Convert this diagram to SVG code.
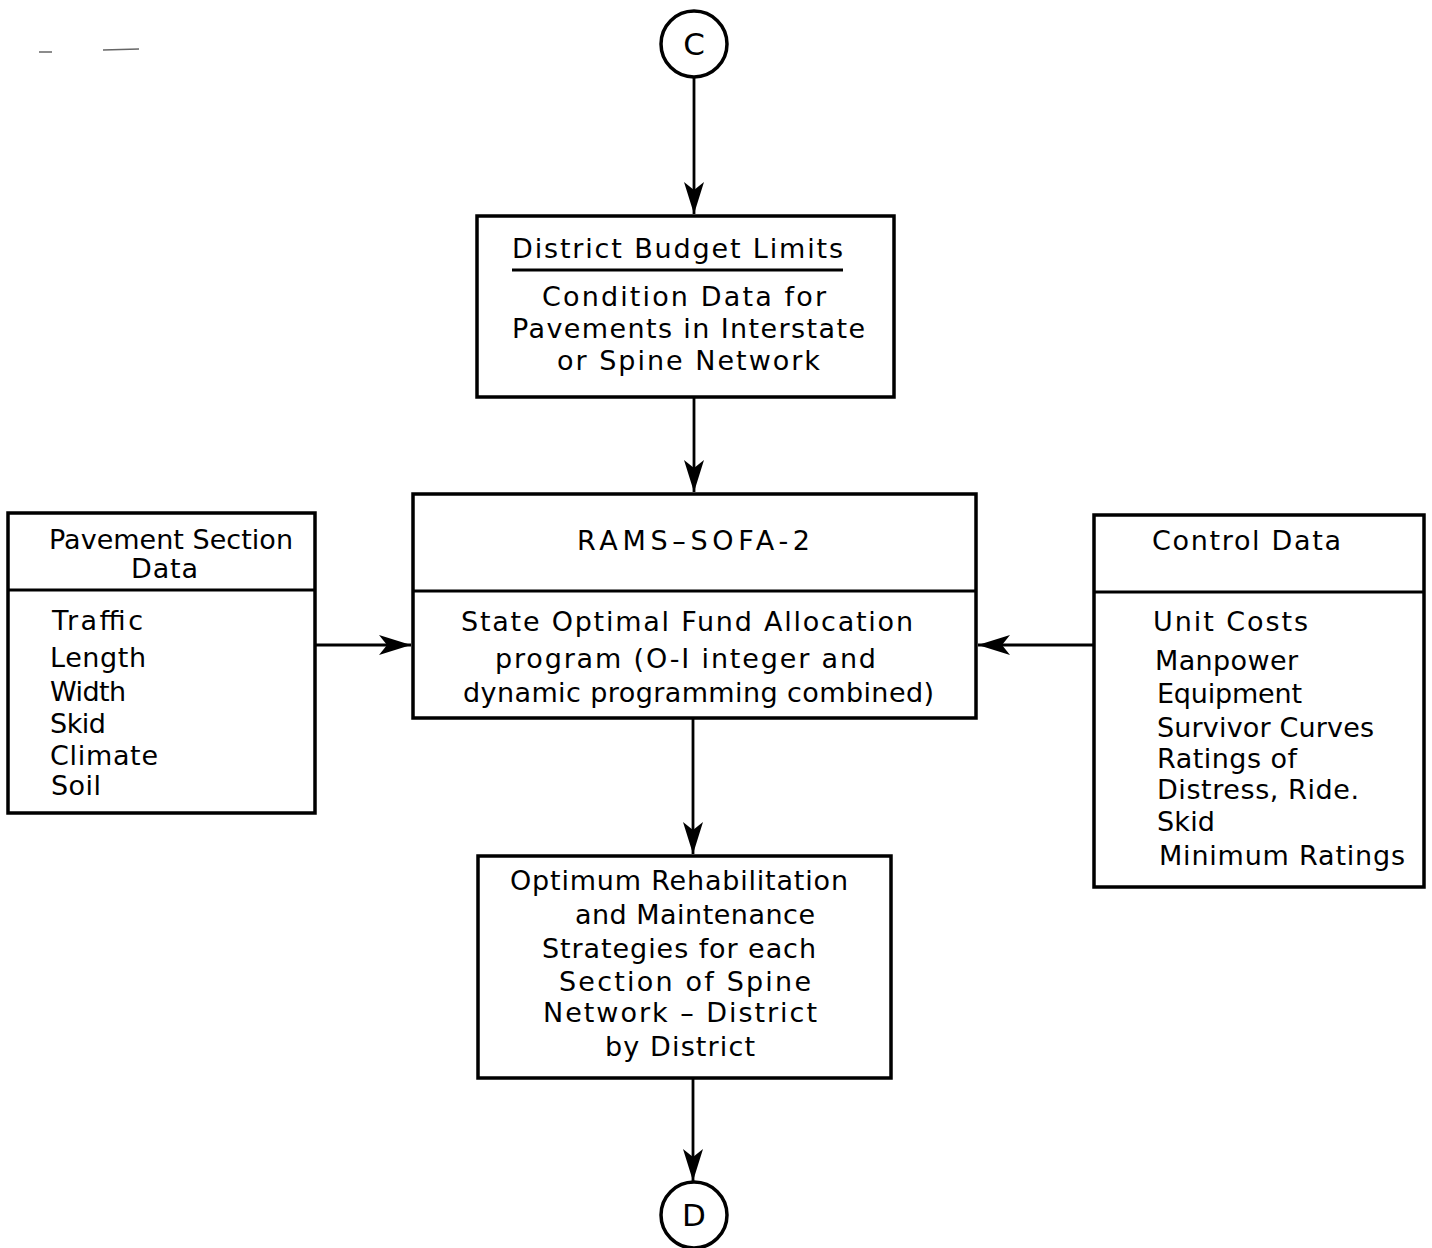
<svg xmlns="http://www.w3.org/2000/svg" width="1432" height="1248" viewBox="0 0 1432 1248">
<defs>
<style>
.box{fill:none;stroke:#000;stroke-width:3.5}
.div{stroke:#000;stroke-width:3}
.con{fill:none;stroke:#000;stroke-width:2.8}
.t{font-family:"DejaVu Sans","Liberation Sans",sans-serif;font-size:27px;fill:#000}
.big{font-size:31px}
</style>
<marker id="ah" markerUnits="userSpaceOnUse" markerWidth="34" markerHeight="22" viewBox="-34 -11 34 22" refX="0" refY="0" orient="auto">
<path d="M0,0 L-32,-10 L-24,0 L-32,10 Z" fill="#000"/>
</marker>
</defs>
<rect width="1432" height="1248" fill="#fff"/>
<g id="marks" stroke="#666" stroke-width="1.5">
<line x1="39" y1="52" x2="52" y2="52"/>
<line x1="103" y1="50" x2="139" y2="49"/>
</g>
<g id="connectors">
<line class="con" x1="694" y1="77" x2="694" y2="214" marker-end="url(#ah)"/>
<line class="con" x1="694" y1="397" x2="694" y2="492" marker-end="url(#ah)"/>
<line class="con" x1="315" y1="645" x2="411" y2="645" marker-end="url(#ah)"/>
<line class="con" x1="1094" y1="645" x2="978" y2="645" marker-end="url(#ah)"/>
<line class="con" x1="693" y1="719" x2="693" y2="854" marker-end="url(#ah)"/>
<line class="con" x1="693" y1="1079" x2="693" y2="1181" marker-end="url(#ah)"/>
</g>
<g id="nodeC">
<circle cx="694" cy="44" r="33" fill="none" stroke="#000" stroke-width="3.5"/>
<text class="t big" x="694" y="55" text-anchor="middle">C</text>
</g>
<g id="budget">
<rect class="box" x="477" y="216" width="417" height="181"/>
<line class="div" x1="512" y1="270" x2="843" y2="270"/>
<text class="t" x="512" y="258" textLength="331" lengthAdjust="spacing">District Budget Limits</text>
<text class="t" x="542" y="306" textLength="284" lengthAdjust="spacing">Condition Data for</text>
<text class="t" x="512" y="338" textLength="353" lengthAdjust="spacing">Pavements in Interstate</text>
<text class="t" x="557" y="370" textLength="263" lengthAdjust="spacing">or Spine Network</text>
</g>
<g id="rams">
<rect class="box" x="413" y="494" width="563" height="224"/>
<line class="div" x1="413" y1="591" x2="976" y2="591"/>
<text class="t" x="577" y="550" textLength="233" lengthAdjust="spacing">RAMS–SOFA-2</text>
<text class="t" x="461" y="631" textLength="452" lengthAdjust="spacing">State Optimal Fund Allocation</text>
<text class="t" x="495" y="668" textLength="381" lengthAdjust="spacing">program (O-I integer and</text>
<text class="t" x="463" y="702" textLength="471" lengthAdjust="spacing">dynamic programming combined)</text>
</g>
<g id="pavement">
<rect class="box" x="8" y="513" width="307" height="300"/>
<line class="div" x1="8" y1="590" x2="315" y2="590"/>
<text class="t" x="49" y="549" textLength="244" lengthAdjust="spacing">Pavement Section</text>
<text class="t" x="131" y="578" textLength="67" lengthAdjust="spacing">Data</text>
<text class="t" x="52" y="630" textLength="91" lengthAdjust="spacing">Traffic</text>
<text class="t" x="50" y="667" textLength="96" lengthAdjust="spacing">Length</text>
<text class="t" x="50" y="701" textLength="76" lengthAdjust="spacing">Width</text>
<text class="t" x="50" y="733" textLength="56" lengthAdjust="spacing">Skid</text>
<text class="t" x="50" y="765" textLength="108" lengthAdjust="spacing">Climate</text>
<text class="t" x="51" y="795" textLength="50" lengthAdjust="spacing">Soil</text>
</g>
<g id="control">
<rect class="box" x="1094" y="515" width="330" height="372"/>
<line class="div" x1="1094" y1="592" x2="1424" y2="592"/>
<text class="t" x="1152" y="550" textLength="189" lengthAdjust="spacing">Control Data</text>
<text class="t" x="1153" y="631" textLength="155" lengthAdjust="spacing">Unit Costs</text>
<text class="t" x="1155" y="670" textLength="143" lengthAdjust="spacing">Manpower</text>
<text class="t" x="1157" y="703" textLength="145" lengthAdjust="spacing">Equipment</text>
<text class="t" x="1157" y="737" textLength="217" lengthAdjust="spacing">Survivor Curves</text>
<text class="t" x="1157" y="768" textLength="140" lengthAdjust="spacing">Ratings of</text>
<text class="t" x="1157" y="799" textLength="202" lengthAdjust="spacing">Distress, Ride.</text>
<text class="t" x="1157" y="831" textLength="58" lengthAdjust="spacing">Skid</text>
<text class="t" x="1159" y="865" textLength="246" lengthAdjust="spacing">Minimum Ratings</text>
</g>
<g id="optimum">
<rect class="box" x="478" y="856" width="413" height="222"/>
<text class="t" x="510" y="890" textLength="338" lengthAdjust="spacing">Optimum Rehabilitation</text>
<text class="t" x="575" y="924" textLength="240" lengthAdjust="spacing">and Maintenance</text>
<text class="t" x="542" y="958" textLength="274" lengthAdjust="spacing">Strategies for each</text>
<text class="t" x="559" y="991" textLength="252" lengthAdjust="spacing">Section of Spine</text>
<text class="t" x="543" y="1022" textLength="274" lengthAdjust="spacing">Network – District</text>
<text class="t" x="605" y="1056" textLength="150" lengthAdjust="spacing">by District</text>
</g>
<g id="nodeD">
<circle cx="694" cy="1215" r="33" fill="none" stroke="#000" stroke-width="3.5"/>
<text class="t big" x="694" y="1226" text-anchor="middle">D</text>
</g>
</svg>
